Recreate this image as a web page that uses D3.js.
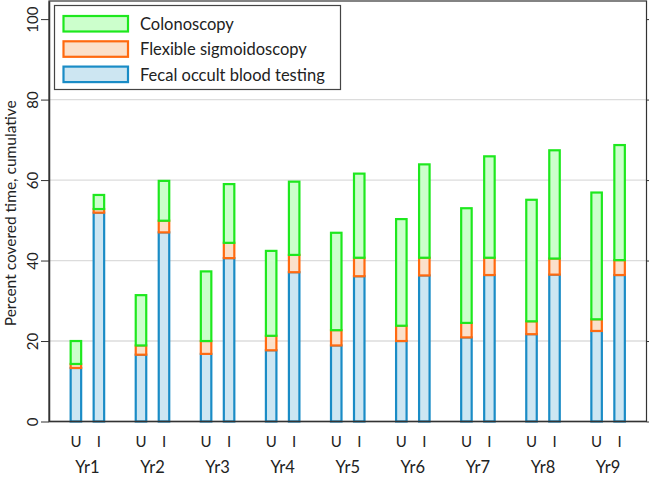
<!DOCTYPE html>
<html><head><meta charset="utf-8">
<script src="https://cdn.jsdelivr.net/npm/d3@7"></script>
<style>body{margin:0;background:#fff}svg{display:block}text{font-family:Lato,"Open Sans",sans-serif;fill:#222}</style>
</head><body><svg id="c" width="649" height="478"></svg>
<script>
const years = ["Yr1","Yr2","Yr3","Yr4","Yr5","Yr6","Yr7","Yr8","Yr9"];
const groups = ["U","I"];
const seriesNames = ["Fecal occult blood testing","Flexible sigmoidoscopy","Colonoscopy"];
const yTicks = [0,20,40,60,80,100];
// segment values (percent), U = usual, I = intervention
const fobtU = [13.3,16.6,16.8,17.7,18.9,20.0,20.9,21.7,22.5];
const fobtI = [51.9,47.0,40.6,37.1,36.1,36.3,36.4,36.5,36.4];
const sigU  = [1.0,2.3,3.2,3.6,3.8,3.8,3.6,3.2,2.9];
const sigI  = [0.9,2.9,3.8,4.3,4.6,4.4,4.3,4.0,3.7];
const colU  = [5.7,12.5,17.3,21.1,24.2,26.5,28.5,30.2,31.5];
const colI  = [3.5,9.9,14.6,18.2,20.9,23.2,25.2,26.9,28.6];

const styles = [
  {fill:"#cde6f2", stroke:"#1a8cc6"},
  {fill:"#fbe0ca", stroke:"#ff6a10"},
  {fill:"#ccffcc", stroke:"#1ee81e"}
];

const rows = [];
years.forEach((y,i)=>{
  rows.push({year:y, grp:"U", fobt:fobtU[i], sig:sigU[i], col:colU[i]});
  rows.push({year:y, grp:"I", fobt:fobtI[i], sig:sigI[i], col:colI[i]});
});
const keys = ["fobt","sig","col"];
const stacked = d3.stack().keys(keys)(rows);

const svg = d3.select("#c");
const L=49, R=646.5, T=1, B=421.5;
const y = d3.scaleLinear().domain([0,104.5]).range([B,T]);
const xg = d3.scalePoint().domain(years).range([L,R]).padding(0.59);
const xs = d3.scalePoint().domain(groups).range([-11.5,11.5]);
const barW = 10.5;

// gridlines
svg.append("g").selectAll("line").data(yTicks.filter(d=>d>0&&d<100)).join("line")
  .attr("x1",L).attr("x2",R).attr("y1",d=>y(d)).attr("y2",d=>y(d))
  .attr("stroke","#dcdcdc").attr("stroke-width",1.3);

// bars
stacked.forEach((s,si)=>{
  svg.append("g").selectAll("rect").data(s).join("rect")
    .attr("x",d=>xg(d.data.year)+xs(d.data.grp)-barW/2)
    .attr("width",barW)
    .attr("y",d=>y(d[1]))
    .attr("height",d=>y(d[0])-y(d[1]))
    .attr("fill",styles[si].fill)
    .attr("stroke",styles[si].stroke)
    .attr("stroke-width",2.2);
});

// frame
svg.append("rect").attr("x",L).attr("y",T).attr("width",R-L).attr("height",B-T)
  .attr("fill","none").attr("stroke","#333").attr("stroke-width",1.2);

// left axis
const ax = svg.append("g").attr("transform",`translate(${L},0)`)
  .call(d3.axisLeft(y).tickValues(yTicks).tickSize(8).tickSizeOuter(0));
ax.select(".domain").attr("stroke","#333").attr("stroke-width",1.5);
ax.selectAll(".tick line").attr("stroke","#333");
ax.selectAll(".tick text").attr("font-size",15).attr("x",null).attr("dy",null)
  .attr("text-anchor","middle").attr("transform","translate(-16,0) rotate(-90)").attr("dy","0.35em")
  .style("font-family","Lato,sans-serif").attr("fill","#222");

// right axis ticks
const axr = svg.append("g").attr("transform",`translate(${R},0)`)
  .call(d3.axisRight(y).tickValues(yTicks).tickSize(3).tickFormat(""));
axr.select(".domain").remove();
axr.selectAll(".tick line").attr("stroke","#333");

// bottom axis line
svg.append("line").attr("x1",L).attr("x2",R).attr("y1",B).attr("y2",B).attr("stroke","#333").attr("stroke-width",1.6);

// U/I labels
rows.forEach(d=>{
  svg.append("text").attr("x",xg(d.year)+xs(d.grp)).attr("y",447)
    .attr("text-anchor","middle").attr("font-size",15).text(d.grp);
});
svg.append("g").selectAll("text").data(years).join("text")
  .attr("x",d=>xg(d)).attr("y",473).attr("text-anchor","middle").attr("font-size",16.5).text(d=>d);

// y title
svg.append("text").attr("transform",`translate(16,${(T+B)/2 + 2}) rotate(-90)`)
  .attr("text-anchor","middle").attr("font-size",15.5).text("Percent covered time, cumulative");

// legend
const lg = svg.append("g");
lg.append("rect").attr("x",54.5).attr("y",5.5).attr("width",286).attr("height",84)
  .attr("fill","#fff").attr("stroke","#444").attr("stroke-width",1.2);
const legOrder = [2,1,0];
legOrder.forEach((si,i)=>{
  lg.append("rect").attr("x",63.5).attr("y",16+i*25.3).attr("width",64.5).attr("height",15.5)
    .attr("fill",styles[si].fill).attr("stroke",styles[si].stroke).attr("stroke-width",2.2);
  lg.append("text").attr("x",140).attr("y",24+i*25.3).attr("dy","0.36em")
    .attr("font-size",16.5).text(seriesNames[si]);
});
</script></body></html>
